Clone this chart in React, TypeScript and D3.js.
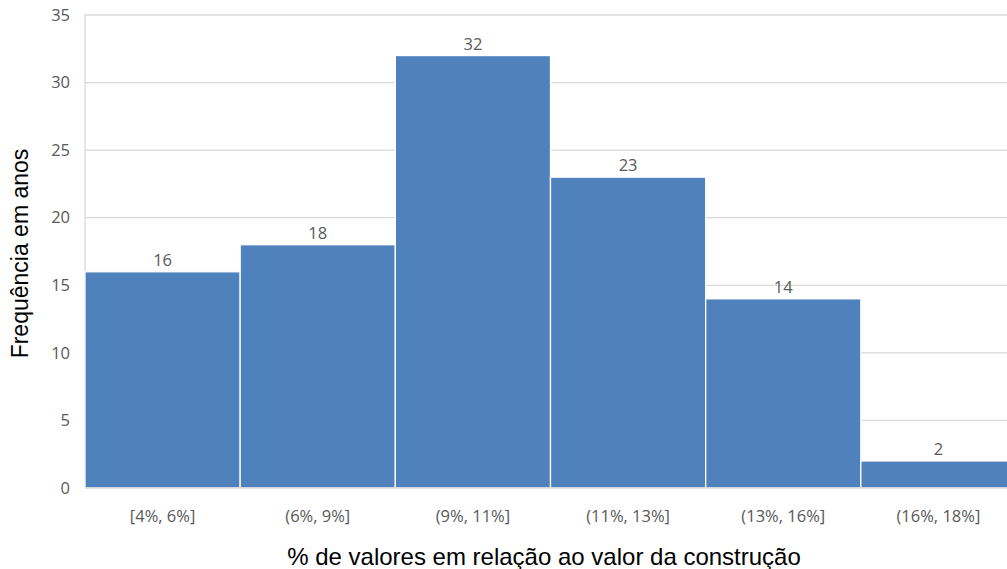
import * as React from 'react';
import * as d3 from 'd3';

const categories = ['[4%, 6%]', '(6%, 9%]', '(9%, 11%]', '(11%, 13%]', '(13%, 16%]', '(16%, 18%]'];
const frequencies = [16, 18, 32, 23, 14, 2];
const yTicks = [0, 5, 10, 15, 20, 25, 30, 35];

const width = 1007;
const height = 569;
// the plot runs past the right edge of the picture, as in the reference crop
const margin = { top: 15, right: -9, bottom: 81, left: 85 };

export default function App() {
    const innerW = width - margin.left - margin.right;
    const innerH = height - margin.top - margin.bottom;

    const xScale = d3.scaleBand<string>().domain(categories).range([0, innerW]).padding(0);
    const yScale = d3.scaleLinear().domain([0, 35]).range([innerH, 0]);

    const tickFont = '"Open Sans", "Noto Sans", sans-serif';
    const titleFont = '"Liberation Sans", Arial, sans-serif';

    return (
        <svg width={width} height={height} style={{ position: 'absolute', left: 0, top: 0, background: '#fff' }}>
            <g transform={'translate(' + margin.left + ',' + margin.top + ')'}>
                {yTicks.map((t) => (
                    <g key={t}>
                        {t > 0 && (
                            <line x1={0} x2={innerW} y1={yScale(t)} y2={yScale(t)} stroke="#d9d9d9" strokeWidth={1.3} />
                        )}
                        <text x={-15} y={yScale(t)} dy="0.35em" textAnchor="end" fontFamily={tickFont}
                              fontSize={16.5} fill="#595959">{t}</text>
                    </g>
                ))}
                <line x1={0} x2={0} y1={0} y2={innerH} stroke="#d9d9d9" strokeWidth={1.3} />
                {categories.map((c, i) => (
                    <g key={c}>
                        <rect x={xScale(c)} y={yScale(frequencies[i])} width={xScale.bandwidth()}
                              height={innerH - yScale(frequencies[i])} fill="#4f81bd" stroke="#fff" strokeWidth={1.3} />
                        <text x={(xScale(c) as number) + xScale.bandwidth() / 2} y={yScale(frequencies[i]) - 6}
                              textAnchor="middle" fontFamily={tickFont} fontSize={16.5} fill="#595959">{frequencies[i]}</text>
                        <text x={(xScale(c) as number) + xScale.bandwidth() / 2} y={innerH + 34}
                              textAnchor="middle" fontFamily={tickFont} fontSize={16.5} fill="#595959">{c}</text>
                    </g>
                ))}
                <line x1={0} x2={innerW} y1={innerH} y2={innerH} stroke="#d9d9d9" strokeWidth={1.3} />
            </g>
            <text x={544} y={565} textAnchor="middle" fontFamily={titleFont} fontSize={24} fill="#000">
                % de valores em relação ao valor da construção
            </text>
            <text transform={'translate(28,' + (margin.top + innerH / 2 + 2) + ') rotate(-90)'} textAnchor="middle"
                  fontFamily={titleFont} fontSize={23} fill="#000">Frequência em anos</text>
        </svg>
    );
}
